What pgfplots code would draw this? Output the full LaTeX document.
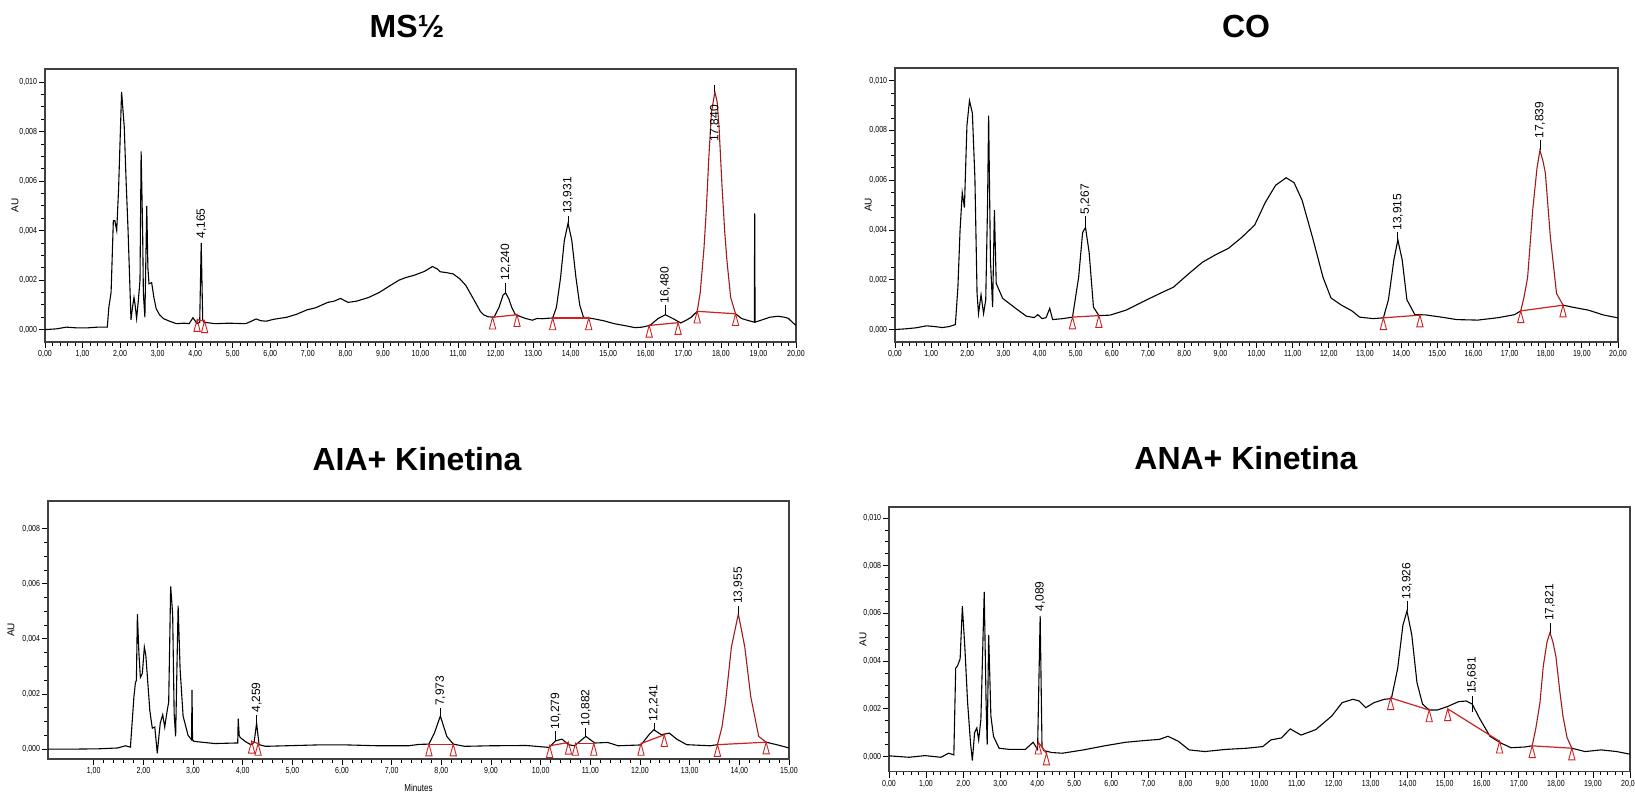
\documentclass[border=0pt]{standalone}
\usepackage{fontspec}
\setmainfont{Liberation Sans}
\usepackage{pgfplots}
\pgfplotsset{compat=1.18}
\definecolor{peakred}{HTML}{9E1B1B}
\definecolor{basered}{HTML}{D02020}
\newcommand\tickfont{\fontsize{4.4}{5}\selectfont}
\newcommand\labfont{\fontsize{5}{6}\selectfont}
\newcommand\pkfont{\fontsize{6}{7}\selectfont}
\newcommand\titfont{\fontsize{16}{19}\selectfont\bfseries}
\pgfplotsset{
 chrom/.style={
  scale only axis, anchor=south west,
  axis line style={black!75, line width=0.6pt},
  tick pos=left, tick align=outside,
  major tick length=3pt, minor tick length=1.8pt,
  every tick/.append style={black, line width=0.4pt},
  minor x tick num=4, minor y tick num=3,
  scaled ticks=false,
  ytick={0,0.002,0.004,0.006,0.008,0.010},
  /pgf/number format/assume math mode=true,
  xticklabel style={font=\tickfont, xscale=0.8, inner sep=1pt, /pgf/number format/.cd, fixed, fixed zerofill, precision=2, use comma},
  yticklabel style={font=\tickfont, xscale=0.8, inner sep=1pt, /pgf/number format/.cd, fixed, fixed zerofill, precision=3, use comma},
  ylabel={AU},
  every axis y label/.style={rotate=90, anchor=center, font=\labfont},
 },
 curve/.style={black, line width=0.55pt, mark=none},
 redcurve/.style={peakred, line width=0.55pt, mark=none},
 base/.style={basered, line width=0.6pt, mark=none},
 tri/.style={only marks, mark=triangle, mark size=2.8pt, mark options={draw=basered, fill=white, line width=0.45pt, yshift=-3.9pt, xscale=0.65, yscale=1.4}},
 pk/.style={draw=none, mark=none, nodes near coords, point meta=explicit symbolic, nodes near coords style={rotate=90, anchor=west, font=\pkfont, inner sep=0.8pt, text=black}},
 tk/.style={black, line width=0.4pt, mark=none},
}
\begin{document}
\begin{tikzpicture}
\useasboundingbox (0,0) rectangle (817.5pt,397pt);
% ---------------- Panel 1: MS 1/2
\begin{axis}[chrom, at={(22.5pt,226pt)}, width=375.5pt, height=136.5pt,
  xmin=0, xmax=20, ymin=-0.0005, ymax=0.01053, xtick={0,...,20},
  title={MS½}, every axis title/.style={at={(0.5,1)}, anchor=base, xshift=-6.75pt, yshift=15.5pt, font=\titfont},
  every axis y label/.append style={at={(axis description cs:-0.040,0.5)}}]
\addplot[curve] table {
0.00 0.00000
0.30 0.00003
0.57 0.00010
0.85 0.00007
1.12 0.00007
1.40 0.00010
1.66 0.00010
1.70 0.00090
1.76 0.00150
1.82 0.00440
1.86 0.00440
1.91 0.00400
1.96 0.00570
2.04 0.00960
2.11 0.00820
2.16 0.00600
2.21 0.00410
2.29 0.00040
2.33 0.00090
2.37 0.00130
2.40 0.00100
2.44 0.00045
2.49 0.00125
2.53 0.00200
2.56 0.00720
2.60 0.00400
2.62 0.00145
2.66 0.00050
2.71 0.00500
2.74 0.00250
2.77 0.00185
2.84 0.00190
2.90 0.00130
2.96 0.00085
3.05 0.00060
3.16 0.00044
3.30 0.00035
3.50 0.00024
3.70 0.00026
3.84 0.00024
3.94 0.00048
4.05 0.00024
4.12 0.00030
4.16 0.00350
4.20 0.00040
4.23 0.00030
4.53 0.00024
4.90 0.00026
5.34 0.00024
5.50 0.00034
5.62 0.00043
5.75 0.00036
5.89 0.00034
6.10 0.00042
6.44 0.00050
6.70 0.00062
6.98 0.00080
7.20 0.00088
7.53 0.00110
7.70 0.00115
7.87 0.00126
8.07 0.00110
8.30 0.00115
8.62 0.00130
8.90 0.00150
9.16 0.00175
9.43 0.00200
9.60 0.00210
9.84 0.00220
10.10 0.00235
10.32 0.00255
10.45 0.00245
10.52 0.00234
10.70 0.00230
10.87 0.00225
11.05 0.00205
11.21 0.00178
11.35 0.00140
11.48 0.00105
11.60 0.00072
11.68 0.00060
11.80 0.00052
11.96 0.00050
12.09 0.00090
12.20 0.00140
12.27 0.00148
12.35 0.00125
12.43 0.00090
12.52 0.00062
12.64 0.00054
12.80 0.00045
12.98 0.00038
13.10 0.00045
13.25 0.00044
13.40 0.00046
13.52 0.00047
13.62 0.00090
13.73 0.00210
13.83 0.00360
13.93 0.00430
14.03 0.00360
14.14 0.00210
14.24 0.00100
14.34 0.00050
14.48 0.00047
14.61 0.00044
14.90 0.00035
15.16 0.00024
15.45 0.00016
15.71 0.00008
15.90 0.00010
16.11 0.00017
16.32 0.00044
16.52 0.00060
16.73 0.00044
16.93 0.00027
17.10 0.00040
17.21 0.00050
17.37 0.00074
};
\addplot[redcurve] table {
17.37 0.00074
17.45 0.00150
17.55 0.00330
17.61 0.00480
17.68 0.00700
17.75 0.00880
17.84 0.00960
17.90 0.00920
17.95 0.00820
18.03 0.00580
18.10 0.00400
18.16 0.00280
18.26 0.00130
18.39 0.00064
};
\addplot[curve] table {
18.39 0.00064
18.55 0.00045
18.70 0.00038
18.89 0.00030
18.90 0.00470
18.91 0.00030
19.11 0.00040
19.30 0.00050
19.52 0.00054
19.70 0.00050
19.80 0.00045
19.90 0.00030
20.00 0.00017
};
\addplot[base] coordinates {(4.05,0.00040) (4.25,0.00035)};
\addplot[base] coordinates {(11.92,0.00050) (12.57,0.00060)};
\addplot[base] coordinates {(13.52,0.00047) (14.48,0.00047)};
\addplot[base] coordinates {(16.09,0.00017) (16.86,0.00028)};
\addplot[base] coordinates {(17.37,0.00074) (18.39,0.00064)};
\addplot[tri] coordinates {(4.05,0.00040) (4.25,0.00035) (11.92,0.00050) (12.57,0.00060) (13.52,0.00047) (14.48,0.00047) (16.09,0.00017) (16.86,0.00028) (17.37,0.00074) (18.39,0.00064)};
\addplot[tk] coordinates {(12.27,0.00148) (12.27,0.0019)};
\addplot[tk] coordinates {(13.93,0.0043) (13.93,0.0046)};
\addplot[tk] coordinates {(16.52,0.0006) (16.52,0.00098)};
\addplot[tk] coordinates {(17.84,0.0096) (17.84,0.0099)};
\addplot[pk] table[meta=lab] {
x y lab
4.165 0.0036 4,165
12.27 0.0019 12,240
13.93 0.0046 13,931
16.52 0.00098 16,480
17.84 0.0075 17,840
};
\end{axis}
% ---------------- Panel 2: CO
\begin{axis}[chrom, at={(447.5pt,226pt)}, width=361.5pt, height=137pt,
  xmin=0, xmax=20, ymin=-0.0005, ymax=0.01051, xtick={0,...,20},
  title={CO}, every axis title/.style={at={(0.5,1)}, anchor=base, xshift=-5.25pt, yshift=15pt, font=\titfont},
  every axis y label/.append style={at={(axis description cs:-0.037,0.5)}}]
\addplot[curve] table {
0.00 0.00000
0.30 0.00003
0.58 0.00007
0.87 0.00015
1.10 0.00012
1.31 0.00008
1.50 0.00012
1.67 0.00020
1.74 0.00170
1.80 0.00400
1.86 0.00550
1.92 0.00490
1.99 0.00820
2.06 0.00920
2.14 0.00870
2.21 0.00610
2.27 0.00145
2.31 0.00064
2.38 0.00140
2.45 0.00064
2.51 0.00120
2.56 0.00500
2.59 0.00860
2.64 0.00280
2.70 0.00090
2.75 0.00480
2.80 0.00185
2.98 0.00125
3.34 0.00085
3.63 0.00054
3.85 0.00048
3.95 0.00060
4.07 0.00044
4.18 0.00048
4.28 0.00085
4.36 0.00040
4.65 0.00044
4.91 0.00050
5.08 0.00210
5.19 0.00390
5.27 0.00410
5.37 0.00310
5.49 0.00090
5.64 0.00056
5.95 0.00058
6.39 0.00078
6.97 0.00120
7.40 0.00150
7.70 0.00170
8.13 0.00225
8.50 0.00270
8.86 0.00300
9.22 0.00326
9.59 0.00370
9.95 0.00420
10.24 0.00510
10.53 0.00580
10.82 0.00610
11.04 0.00590
11.26 0.00520
11.55 0.00370
11.84 0.00210
12.06 0.00127
12.35 0.00098
12.64 0.00075
12.85 0.00050
13.22 0.00044
13.51 0.00047
13.65 0.00120
13.80 0.00280
13.91 0.00360
14.03 0.00280
14.16 0.00120
14.38 0.00060
14.67 0.00059
15.11 0.00050
15.54 0.00040
16.12 0.00038
16.70 0.00048
17.14 0.00060
17.31 0.00075
};
\addplot[redcurve] table {
17.31 0.00075
17.40 0.00130
17.50 0.00210
17.64 0.00480
17.76 0.00650
17.84 0.00720
17.92 0.00680
17.99 0.00630
18.13 0.00370
18.30 0.00145
18.48 0.00098
};
\addplot[curve] table {
18.48 0.00098
18.74 0.00090
19.18 0.00078
19.61 0.00058
20.00 0.00047
};
\addplot[base] coordinates {(4.91,0.00050) (5.64,0.00056)};
\addplot[base] coordinates {(13.51,0.00047) (14.52,0.00058)};
\addplot[base] coordinates {(17.31,0.00075) (18.48,0.00098)};
\addplot[tri] coordinates {(4.91,0.00050) (5.64,0.00056) (13.51,0.00047) (14.52,0.00058) (17.31,0.00075) (18.48,0.00098)};
\addplot[tk] coordinates {(5.27,0.0041) (5.27,0.00456)};
\addplot[tk] coordinates {(13.91,0.0036) (13.91,0.0039)};
\addplot[tk] coordinates {(17.84,0.0072) (17.84,0.0076)};
\addplot[pk] table[meta=lab] {
x y lab
5.27 0.00456 5,267
13.91 0.0039 13,915
17.84 0.0076 17,839
};
\end{axis}
% ---------------- Panel 3: AIA+ Kinetina
\begin{axis}[chrom, at={(24pt,17.5pt)}, width=370.5pt, height=129pt,
  xmin=0.08, xmax=15, ymin=-0.00036, ymax=0.009, xtick={1,...,15},
  ytick={0,0.002,0.004,0.006,0.008},
  title={AIA+ Kinetina}, every axis title/.style={at={(0.5,1)}, anchor=base, xshift=-0.75pt, yshift=15.5pt, font=\titfont},
  every axis y label/.append style={at={(axis description cs:-0.050,0.5)}},
  xlabel={Minutes}, every axis x label/.style={at={(axis description cs:0.5,-0.112)}, anchor=center, font=\labfont, xscale=0.8}]
\addplot[curve] table {
0.08 0.00000
0.66 0.00000
1.10 0.00001
1.48 0.00004
1.64 0.00012
1.74 0.00007
1.81 0.00190
1.84 0.00240
1.86 0.00250
1.88 0.00490
1.91 0.00350
1.94 0.00260
1.98 0.00275
2.02 0.00370
2.05 0.00340
2.07 0.00290
2.13 0.00140
2.18 0.00076
2.23 0.00080
2.28 -0.00015
2.34 0.00094
2.39 0.00125
2.43 0.00080
2.48 0.00140
2.51 0.00170
2.55 0.00590
2.59 0.00490
2.62 0.00130
2.65 0.00046
2.70 0.00520
2.74 0.00290
2.80 0.00120
2.90 0.00050
2.97 0.00034
2.98 0.00215
2.99 0.00034
3.02 0.00028
3.44 0.00020
3.85 0.00022
3.90 0.00022
3.91 0.00110
3.93 0.00050
3.95 0.00042
4.05 0.00028
4.16 0.00016
4.23 0.00024
4.28 0.00094
4.33 0.00016
4.46 0.00010
4.87 0.00012
5.49 0.00015
6.11 0.00015
6.73 0.00012
7.34 0.00012
7.55 0.00017
7.75 0.00018
7.86 0.00058
7.98 0.00120
8.11 0.00046
8.24 0.00018
8.47 0.00010
8.99 0.00012
9.71 0.00013
10.17 0.00006
10.30 0.00030
10.43 0.00036
10.56 0.00016
10.68 0.00012
10.91 0.00046
11.09 0.00022
11.35 0.00024
11.56 0.00012
12.02 0.00015
12.18 0.00052
12.28 0.00070
12.43 0.00052
12.59 0.00058
12.74 0.00036
12.94 0.00016
13.41 0.00012
13.56 0.00016
};
\addplot[redcurve] table {
13.56 0.00016
13.65 0.00080
13.72 0.00167
13.84 0.00370
13.98 0.00490
14.11 0.00370
14.23 0.00190
14.39 0.00046
14.54 0.00025
};
\addplot[curve] table {
14.54 0.00025
14.75 0.00016
15.00 0.00004
};
\addplot[base] coordinates {(4.18,0.00028) (4.31,0.00020)};
\addplot[base] coordinates {(7.75,0.00018) (8.24,0.00018)};
\addplot[base] coordinates {(10.18,0.00012) (10.56,0.00024)};
\addplot[base] coordinates {(10.70,0.00020) (11.07,0.00020)};
\addplot[base] coordinates {(12.02,0.00020) (12.49,0.00052)};
\addplot[base] coordinates {(13.56,0.00016) (14.54,0.00025)};
\addplot[tri] coordinates {(4.18,0.00028) (4.31,0.00020) (7.75,0.00018) (8.24,0.00018) (10.18,0.00012) (10.56,0.00024) (10.70,0.00020) (11.07,0.00020) (12.02,0.00020) (12.49,0.00052) (13.56,0.00016) (14.54,0.00025)};
\addplot[tk] coordinates {(4.28,0.00094) (4.28,0.00125)};
\addplot[tk] coordinates {(7.98,0.0012) (7.98,0.0015)};
\addplot[tk] coordinates {(10.30,0.0003) (10.30,0.00064)};
\addplot[tk] coordinates {(10.91,0.00046) (10.91,0.00076)};
\addplot[tk] coordinates {(12.28,0.0007) (12.28,0.00094)};
\addplot[tk] coordinates {(13.98,0.0049) (13.98,0.0052)};
\addplot[pk] table[meta=lab] {
x y lab
4.28 0.00125 4,259
7.98 0.0015 7,973
10.30 0.00064 10,279
10.91 0.00076 10,882
12.28 0.00094 12,241
13.98 0.0052 13,955
};
\end{axis}
% ---------------- Panel 4: ANA+ Kinetina
\begin{axis}[chrom, at={(444.5pt,11.2pt)}, width=370.5pt, height=132.3pt,
  xmin=0, xmax=20, ymin=-0.00063, ymax=0.01046, xtick={0,...,20},
  title={ANA+ Kinetina}, every axis title/.style={at={(0.5,1)}, anchor=base, xshift=-6.75pt, yshift=18.5pt, font=\titfont},
  every axis y label/.append style={at={(axis description cs:-0.035,0.5)}}]
\addplot[curve] table {
0.00 0.00003
0.54 -0.00003
0.97 0.00004
1.40 -0.00003
1.61 0.00014
1.75 0.00007
1.80 0.00370
1.85 0.00380
1.92 0.00410
1.98 0.00630
2.05 0.00450
2.12 0.00230
2.20 0.00057
2.25 -0.00017
2.31 0.00100
2.37 0.00120
2.42 0.00070
2.48 0.00155
2.57 0.00690
2.62 0.00230
2.65 0.00050
2.69 0.00510
2.75 0.00170
2.82 0.00085
2.97 0.00035
3.25 0.00030
3.68 0.00030
3.89 0.00060
4.01 0.00030
4.08 0.00590
4.13 0.00040
4.18 0.00025
4.39 0.00017
4.68 0.00014
5.25 0.00028
5.82 0.00045
6.39 0.00060
6.96 0.00068
7.30 0.00072
7.53 0.00085
7.81 0.00064
8.10 0.00028
8.52 0.00021
9.09 0.00030
9.66 0.00035
10.09 0.00042
10.31 0.00070
10.59 0.00078
10.83 0.00116
11.12 0.00090
11.52 0.00113
11.95 0.00170
12.23 0.00226
12.52 0.00240
12.69 0.00233
12.87 0.00205
13.09 0.00226
13.37 0.00240
13.56 0.00243
13.73 0.00370
13.87 0.00550
13.98 0.00610
14.11 0.00510
14.25 0.00310
14.40 0.00220
14.58 0.00195
14.80 0.00195
15.08 0.00210
15.37 0.00230
15.58 0.00233
15.74 0.00220
15.94 0.00160
16.22 0.00085
16.51 0.00057
16.79 0.00037
17.15 0.00040
17.36 0.00045
};
\addplot[redcurve] table {
17.36 0.00045
17.46 0.00120
17.57 0.00226
17.66 0.00380
17.76 0.00480
17.84 0.00520
17.92 0.00480
18.00 0.00420
18.10 0.00280
18.19 0.00170
18.30 0.00080
18.43 0.00035
};
\addplot[curve] table {
18.43 0.00035
18.79 0.00021
19.22 0.00028
19.64 0.00021
20.00 0.00010
};
\addplot[base] coordinates {(4.03,0.00060) (4.25,0.00014)};
\addplot[base] coordinates {(13.54,0.00246) (14.58,0.00195)};
\addplot[base] coordinates {(15.08,0.00200) (16.48,0.00064)};
\addplot[base] coordinates {(17.36,0.00045) (18.43,0.00035)};
\addplot[tri] coordinates {(4.03,0.00060) (4.25,0.00014) (13.54,0.00246) (14.58,0.00195) (15.08,0.00200) (16.48,0.00064) (17.36,0.00045) (18.43,0.00035)};
\addplot[tk] coordinates {(13.98,0.0061) (13.98,0.0065)};
\addplot[tk] coordinates {(15.74,0.00187) (15.74,0.00254)};
\addplot[tk] coordinates {(17.84,0.0052) (17.84,0.0056)};
\addplot[pk] table[meta=lab] {
x y lab
4.08 0.0060 4,089
13.98 0.0065 13,926
15.74 0.00254 15,681
17.84 0.0056 17,821
};
\end{axis}
\end{tikzpicture}
\end{document}
